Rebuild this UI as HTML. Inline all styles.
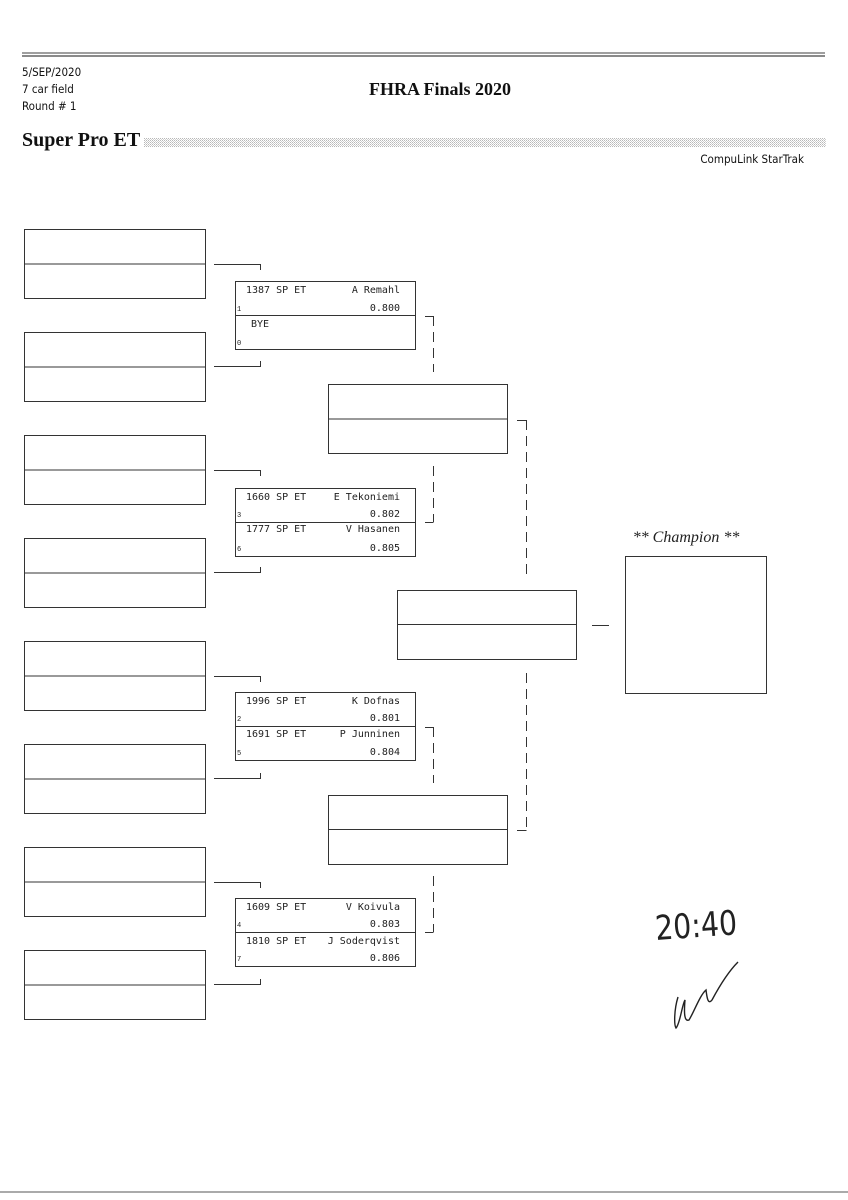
<!DOCTYPE html>
<html><head><meta charset="utf-8"><style>
html,body{margin:0;padding:0;background:#fff;}
svg{display:block}
.m{font-family:"DejaVu Sans Mono","Liberation Mono",monospace;font-size:10px;fill:#222}
.s{font-family:"Liberation Mono",monospace;font-size:7px;fill:#222}
</style></head><body>
<svg width="848" height="1200" viewBox="0 0 848 1200" xmlns="http://www.w3.org/2000/svg">
<defs><pattern id="dots" width="2" height="2" patternUnits="userSpaceOnUse"><rect width="1" height="1" fill="#999"/><rect x="1" y="1" width="1" height="1" fill="#bbb"/></pattern></defs>
<line x1="22" y1="53" x2="825" y2="53" stroke="#666" stroke-width="1.2"/>
<line x1="22" y1="56" x2="825" y2="56" stroke="#444" stroke-width="1.2"/>
<g font-family="'DejaVu Sans Condensed','DejaVu Sans',sans-serif" font-size="11.5" fill="#111">
<text x="22" y="76">5/SEP/2020</text>
<text x="22" y="93">7 car field</text>
<text x="22" y="110">Round # 1</text>
<text x="804" y="163" text-anchor="end">CompuLink StarTrak</text>
</g>
<text x="440" y="95" text-anchor="middle" font-family="'Liberation Serif',serif" font-weight="bold" font-size="18" fill="#111">FHRA Finals 2020</text>
<text x="22" y="146" font-family="'Liberation Serif',serif" font-weight="bold" font-size="20" fill="#111">Super Pro ET</text>
<rect x="144" y="138" width="682" height="9" fill="url(#dots)" opacity="0.7"/>
<g fill="none" stroke="#333" stroke-width="1">
<rect x="24.5" y="229.5" width="181" height="69"/><line x1="24" y1="264" x2="205" y2="264"/>
<rect x="24.5" y="332.5" width="181" height="69"/><line x1="24" y1="367" x2="205" y2="367"/>
<rect x="24.5" y="435.5" width="181" height="69"/><line x1="24" y1="470" x2="205" y2="470"/>
<rect x="24.5" y="538.5" width="181" height="69"/><line x1="24" y1="573" x2="205" y2="573"/>
<rect x="24.5" y="641.5" width="181" height="69"/><line x1="24" y1="676" x2="205" y2="676"/>
<rect x="24.5" y="744.5" width="181" height="69"/><line x1="24" y1="779" x2="205" y2="779"/>
<rect x="24.5" y="847.5" width="181" height="69"/><line x1="24" y1="882" x2="205" y2="882"/>
<rect x="24.5" y="950.5" width="181" height="69"/><line x1="24" y1="985" x2="205" y2="985"/>
<path d="M214 264.5H260.5V270"/><path d="M214 366.5H260.5V361"/>
<path d="M214 470.5H260.5V476"/><path d="M214 572.5H260.5V567"/>
<path d="M214 676.5H260.5V682"/><path d="M214 778.5H260.5V773"/>
<path d="M214 882.5H260.5V888"/><path d="M214 984.5H260.5V979"/>
<rect x="235.5" y="281.5" width="180" height="68"/><line x1="235" y1="315.5" x2="415" y2="315.5"/>
<rect x="235.5" y="488.5" width="180" height="68"/><line x1="235" y1="522.5" x2="415" y2="522.5"/>
<rect x="235.5" y="692.5" width="180" height="68"/><line x1="235" y1="726.5" x2="415" y2="726.5"/>
<rect x="235.5" y="898.5" width="180" height="68"/><line x1="235" y1="932.5" x2="415" y2="932.5"/>
<rect x="328.5" y="384.5" width="179" height="69"/><line x1="328" y1="419" x2="507" y2="419"/>
<rect x="328.5" y="795.5" width="179" height="69"/><line x1="328" y1="829.5" x2="507" y2="829.5"/>
<rect x="397.5" y="590.5" width="179" height="69"/><line x1="397" y1="624.5" x2="576" y2="624.5"/>
<rect x="625.5" y="556.5" width="141" height="137"/>
<line x1="592" y1="625.5" x2="609" y2="625.5"/>
<path d="M425 316.5H433.5"/><path d="M433.5 316V372" stroke-dasharray="10,6"/>
<path d="M433.5 466V522" stroke-dasharray="10,6"/><path d="M425 522.5H433.5"/>
<path d="M425 727.5H433.5"/><path d="M433.5 727V783" stroke-dasharray="10,6"/>
<path d="M433.5 876V932" stroke-dasharray="10,6"/><path d="M425 932.5H433.5"/>
<path d="M517 420.5H526.5"/><path d="M526.5 420V577" stroke-dasharray="10,6"/>
<path d="M526.5 673V830" stroke-dasharray="10,6"/><path d="M517 830.5H526.5"/>
</g>
<g class="m">
<text x="246" y="293">1387 SP ET</text><text x="400" y="293" text-anchor="end">A Remahl</text><text x="400" y="311" text-anchor="end">0.800</text>
<text x="251" y="327">BYE</text>
<text x="246" y="500">1660 SP ET</text><text x="400" y="500" text-anchor="end">E Tekoniemi</text><text x="400" y="517" text-anchor="end">0.802</text>
<text x="246" y="532">1777 SP ET</text><text x="400" y="532" text-anchor="end">V Hasanen</text><text x="400" y="551" text-anchor="end">0.805</text>
<text x="246" y="704">1996 SP ET</text><text x="400" y="704" text-anchor="end">K Dofnas</text><text x="400" y="721" text-anchor="end">0.801</text>
<text x="246" y="737">1691 SP ET</text><text x="400" y="737" text-anchor="end">P Junninen</text><text x="400" y="755" text-anchor="end">0.804</text>
<text x="246" y="910">1609 SP ET</text><text x="400" y="910" text-anchor="end">V Koivula</text><text x="400" y="927" text-anchor="end">0.803</text>
<text x="246" y="944">1810 SP ET</text><text x="400" y="944" text-anchor="end">J Soderqvist</text><text x="400" y="961" text-anchor="end">0.806</text>
</g>
<g class="s">
<text x="237" y="311">1</text><text x="237" y="345">0</text>
<text x="237" y="517">3</text><text x="237" y="551">6</text>
<text x="237" y="721">2</text><text x="237" y="755">5</text>
<text x="237" y="927">4</text><text x="237" y="961">7</text>
</g>
<text x="686" y="542" text-anchor="middle" font-family="'Liberation Serif',serif" font-style="italic" font-size="16" fill="#222">** Champion **</text>
<text x="656" y="940" font-family="'DejaVu Sans Condensed',sans-serif" font-size="34" font-weight="200" fill="#222" transform="rotate(-4 656 940) scale(1 1)" textLength="82" lengthAdjust="spacingAndGlyphs">20:40</text>
<path d="M678 997 C674 1010 674 1025 676 1028 C680 1024 682 1005 685 1000 C684 1012 684 1022 689 1020 C694 1012 700 995 706 990 C707 998 708 1005 712 1000 C720 985 730 970 738 962" fill="none" stroke="#222" stroke-width="1.4"/>
<line x1="0" y1="1192" x2="848" y2="1192" stroke="#555" stroke-width="1"/>
</svg>
</body></html>
